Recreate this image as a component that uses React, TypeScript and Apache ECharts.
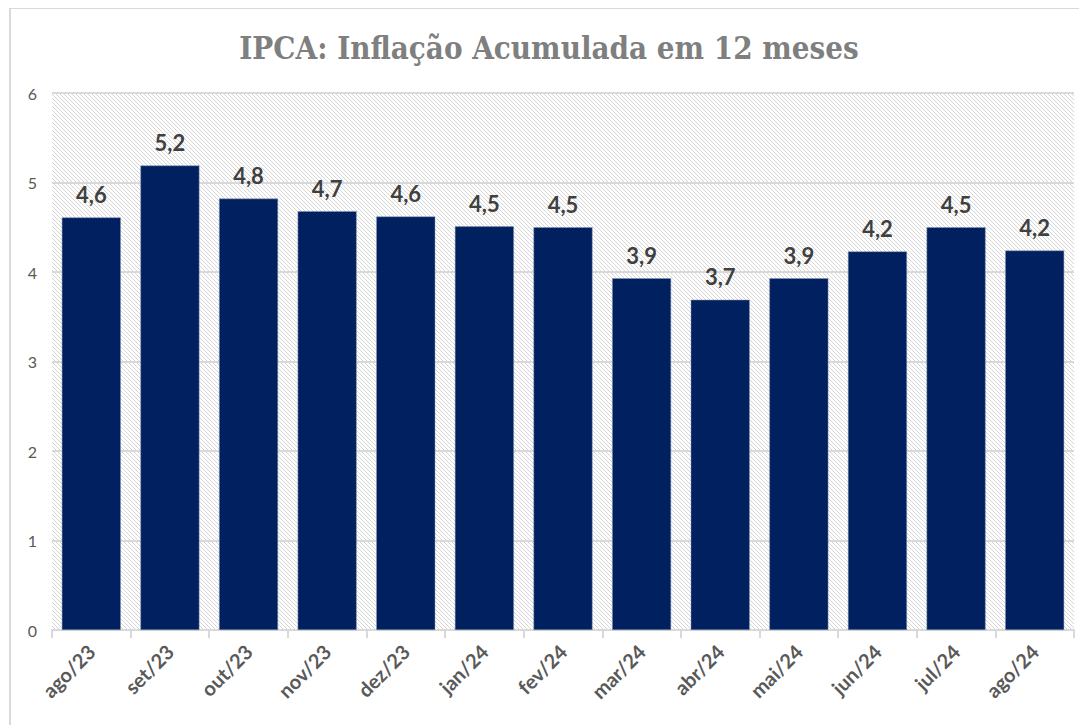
import React, { useEffect, useRef } from "react";
import * as echarts from "echarts";

const categories = ["ago/23", "set/23", "out/23", "nov/23", "dez/23", "jan/24", "fev/24", "mar/24", "abr/24", "mai/24", "jun/24", "jul/24", "ago/24"];
const values = [4.61, 5.19, 4.82, 4.68, 4.62, 4.51, 4.50, 3.93, 3.69, 3.93, 4.23, 4.50, 4.24];
const titleText = "IPCA: Inflação Acumulada em 12 meses";

function makeHatch(): HTMLCanvasElement {
  const c = document.createElement("canvas");
  c.width = 4;
  c.height = 4;
  const ctx = c.getContext("2d")!;
  ctx.fillStyle = "#ffffff";
  ctx.fillRect(0, 0, 4, 4);
  ctx.strokeStyle = "#d4d4d4";
  ctx.lineWidth = 1;
  ctx.beginPath();
  ctx.moveTo(-1, -1);
  ctx.lineTo(5, 5);
  ctx.moveTo(-1, 3);
  ctx.lineTo(1, 5);
  ctx.moveTo(3, -1);
  ctx.lineTo(5, 1);
  ctx.stroke();
  return c;
}

export default function App() {
  const ref = useRef<HTMLDivElement>(null);
  useEffect(() => {
    if (!ref.current) return;
    const chart = echarts.init(ref.current, undefined, { renderer: "svg" });
    chart.setOption({
      animation: false,
      backgroundColor: "#ffffff",
      title: {
        text: titleText,
        left: "center",
        top: 18,
        textStyle: {
          fontFamily: "DejaVu Serif Condensed",
          fontWeight: "bold",
          fontSize: 31,
          color: "#7f7f7f",
        },
      },
      grid: {
        left: 41,
        right: 13,
        top: 84,
        bottom: 95,
        show: true,
        borderWidth: 0,
        backgroundColor: { image: makeHatch(), repeat: "repeat" } as any,
      },
      xAxis: {
        type: "category",
        data: categories,
        axisLine: { lineStyle: { color: "#d9d9d9", width: 2 } },
        axisTick: { show: true, length: 8, lineStyle: { color: "#d9d9d9", width: 2 } },
        axisLabel: {
          rotate: 45,
          fontFamily: "Lato",
          fontWeight: "bold",
          fontSize: 20,
          color: "#595959",
          margin: 18,
        },
      },
      yAxis: {
        type: "value",
        min: 0,
        max: 6,
        interval: 1,
        axisLine: { show: false },
        axisTick: { show: false },
        splitLine: { lineStyle: { color: "#d9d9d9", width: 2 } },
        axisLabel: {
          fontFamily: "Lato",
          fontSize: 16,
          color: "#595959",
          margin: 15,
        },
      },
      series: [
        {
          type: "bar",
          data: values,
          barCategoryGap: "25%",
          itemStyle: { color: "#002060", borderColor: "#8497b0", borderWidth: 0.5 },
          label: {
            show: true,
            position: "top",
            distance: 12,
            fontFamily: "Lato",
            fontWeight: "bold",
            fontSize: 22,
            color: "#404040",
            formatter: (p: any) => p.value.toFixed(1).replace(".", ","),
          },
        },
      ],
    });
    return () => chart.dispose();
  }, []);
  return (
    <div
      ref={ref}
      style={{
        width: 1078,
        height: 718,
        borderTop: "2px solid #d9d9d9",
        borderLeft: "2px solid #d9d9d9",
        boxSizing: "border-box",
        marginLeft: 1,
        marginTop: -1,
      }}
    />
  );
}
